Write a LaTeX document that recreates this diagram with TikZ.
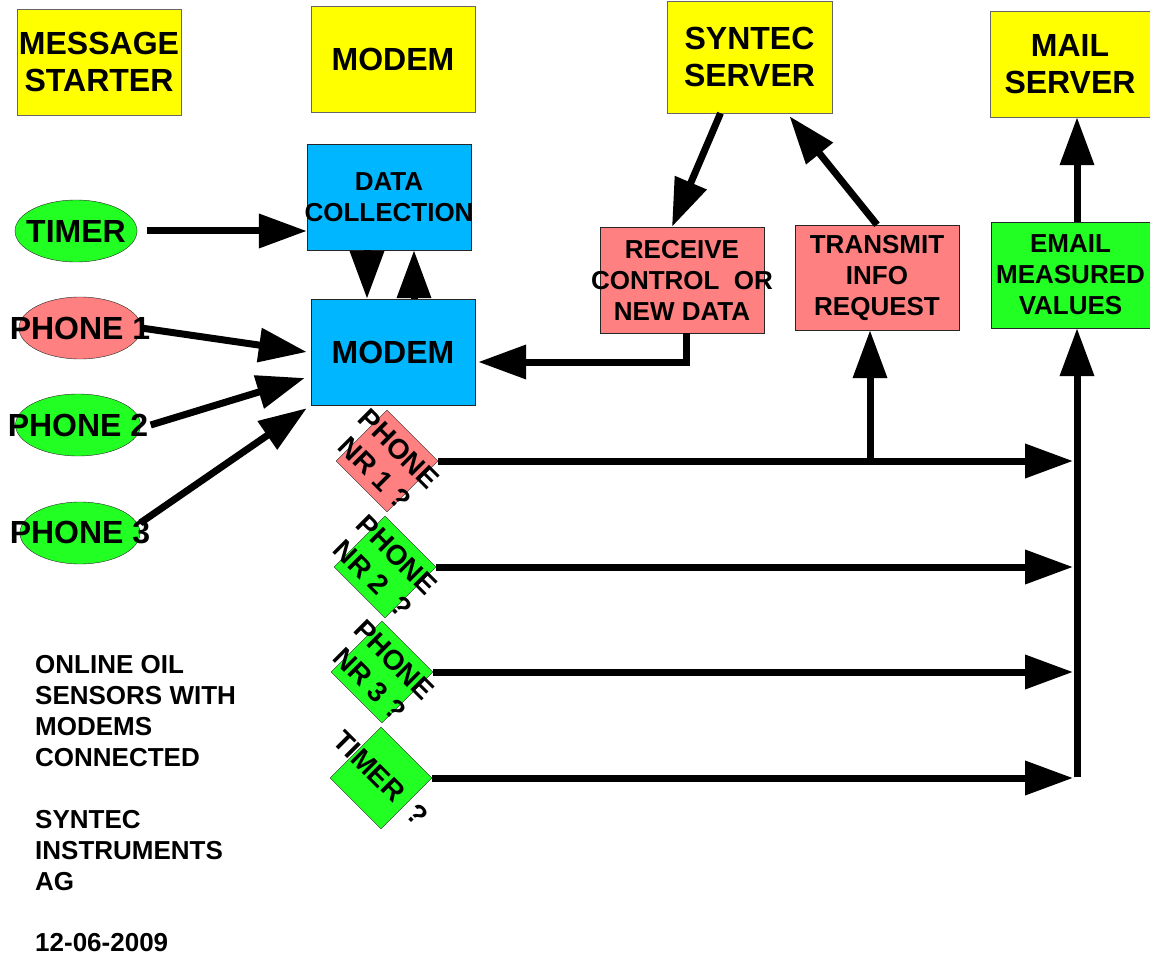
\documentclass[tikz,border=0pt]{standalone}
\usepackage{fontspec}
\setmainfont{Liberation Sans}
\usepackage{xcolor}
\usepackage{tikz}
\usetikzlibrary{arrows.meta,shapes.geometric}
\definecolor{boxyellow}{RGB}{255,255,0}
\definecolor{boxblue}{RGB}{0,183,255}
\definecolor{boxpink}{RGB}{255,128,128}
\definecolor{boxgreen}{RGB}{34,255,34}
\newcommand{\spill}[1]{\makebox[0pt]{#1}}

\begin{document}
\begin{tikzpicture}[x=1pt,y=-1pt,
  hdrbox/.style={draw=black!60,fill=boxyellow,minimum width=164pt,minimum height=106pt,
              inner sep=0pt,align=center,font=\fontsize{32}{37}\selectfont\bfseries},
  blk/.style={draw=black!85,minimum width=164pt,minimum height=106pt,inner sep=0pt,
              align=center,font=\fontsize{26}{31}\selectfont\bfseries},
  oval/.style={ellipse,draw=black!85,minimum width=122pt,minimum height=62pt,inner sep=0pt,
              font=\fontsize{32}{37}\selectfont\bfseries},
  query/.style={draw=black!85,rotate=-45,minimum size=72pt,inner sep=0pt,align=center,
              font=\fontsize{28}{34}\selectfont\bfseries},
  arr/.style={-{Triangle[length=48pt,width=33pt]},line width=7pt}]
\useasboundingbox (0,0) rectangle (1150,957);
% headers
\node[hdrbox] (starter) at (99,62) {MESSAGE\\STARTER};
\node[hdrbox] (modemhdr) at (393,59) {MODEM};
\node[hdrbox,minimum width=165pt,minimum height=112pt] (syntec) at (749.5,57) {SYNTEC\\SERVER};
\node[hdrbox,minimum width=160pt] (mail) at (1070,64) {MAIL\\SERVER};
% boxes
\node[blk,fill=boxblue] (collect) at (389,197) {DATA\\\spill{COLLECTION}};
\node[blk,fill=boxblue,font=\fontsize{32}{37}\selectfont\bfseries] (modem) at (393,352) {MODEM};
\node[blk,fill=boxpink] (receive) at (682,280) {RECEIVE\\\spill{CONTROL\ \ OR}\\NEW DATA};
\node[blk,fill=boxpink,minimum height=105pt] (transmit) at (877,277.5) {TRANSMIT\\INFO\\REQUEST};
\node[blk,fill=boxgreen,minimum width=159pt] (email) at (1070.5,275) {EMAIL\\MEASURED\\VALUES};
% starters
\node[oval,fill=boxgreen] (timer) at (76,231) {\spill{TIMER}};
\node[oval,fill=boxpink] (phone1) at (80,328) {\spill{PHONE 1}};
\node[oval,fill=boxgreen,minimum width=125pt] (phone2) at (78,425) {\spill{PHONE 2}};
\node[oval,fill=boxgreen,minimum width=120pt] (phone3) at (80,533) {\spill{PHONE 3}};
% queries
\node[query,fill=boxpink] (nr1) at (387,461) {\spill{PHONE}\\\spill{NR 1 ?}};
\node[query,fill=boxgreen] (nr2) at (385,567) {\spill{PHONE}\\\spill{NR 2\ \ ?}};
\node[query,fill=boxgreen] (nr3) at (382,672) {\spill{PHONE}\\\spill{NR 3 ?}};
\node[query,fill=boxgreen] (nrtimer) at (381,778) {\spill{TIMER\ \ ?}};
\node[anchor=north west,inner sep=0pt,align=left,font=\fontsize{26}{31}\selectfont\bfseries]
   (note) at (35,655) {ONLINE OIL\\SENSORS WITH\\MODEMS\\CONNECTED\\[31pt]SYNTEC\\
   INSTRUMENTS\\AG\\[30pt]12-06-2009};
\coordinate (busx) at (1077,777);
\coordinate (tipx) at (1073,0);
\coordinate (tapx) at (870,0);
% connectors
\draw[arr] ([xshift=10pt]timer.east) -- (timer.east -| collect.west);
\draw[arr] ([xshift=-22pt]collect.south) -- ([xshift=-22pt]collect.south |- modem.north);
\draw[arr] ([xshift=21pt]modem.north) -- ([xshift=21pt]modem.north |- collect.south);
\draw[arr] (phone1.east) -- ([xshift=-4pt]modem.west);
\draw[arr] ([xshift=10pt]phone2.east) -- ([xshift=-6pt,yshift=-26pt]modem.west);
\draw[arr] ([yshift=10pt]phone3.east) -- ([xshift=-4pt,yshift=-3pt]modem.south west);
\draw[arr] ([xshift=-29pt]syntec.south) -- ([xshift=-10pt]receive.north);
\draw[arr] (transmit.north) -- ([xshift=40pt,yshift=-3pt]syntec.south);
\draw[arr] ([xshift=4pt]receive.south) |- ([xshift=3pt,yshift=-10pt]modem.east);
\foreach \q in {nr1,nr2,nr3,nrtimer}
  \draw[arr] (\q.north east) -- (\q.north east -| tipx);
\draw[arr] (nr1.north east -| tapx) -- (tapx |- transmit.south);
\draw[arr] (busx) -- (busx |- email.south);
\draw[arr] (busx |- email.north) -- (busx |- mail.south);
\end{tikzpicture}
\end{document}
